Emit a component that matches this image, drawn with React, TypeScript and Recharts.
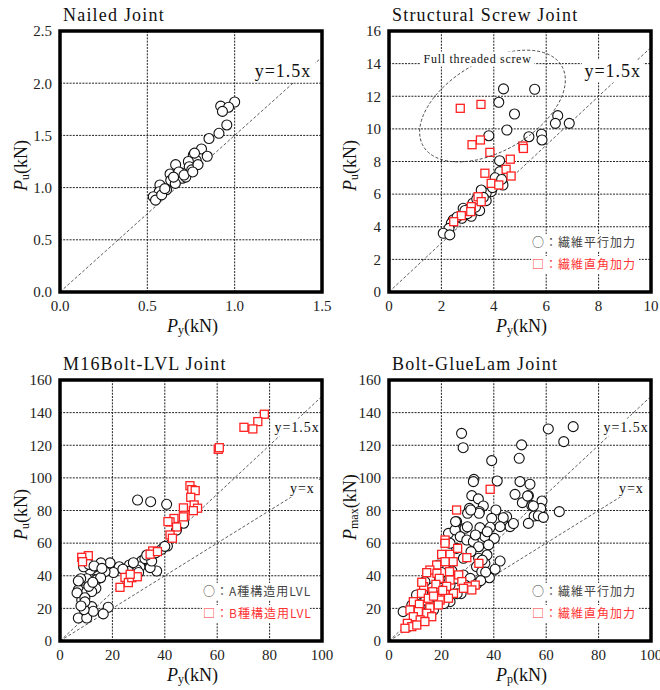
import React from "react";
import {
  ScatterChart,
  Scatter,
  XAxis,
  YAxis,
  CartesianGrid,
  ReferenceLine,
  ReferenceDot,
} from "recharts";

const SERIF = "'Liberation Serif', 'Times New Roman', serif";
const JP = "'Noto Sans CJK JP', 'Noto Sans', sans-serif";

// Nailed joint (Py, Pu in kN)
const nailedPy = [1.0, 0.92, 0.965, 0.93, 0.955, 0.91, 0.853, 0.81, 0.763, 0.843, 0.78, 0.735, 0.662, 0.74, 0.754, 0.697, 0.63, 0.7, 0.634, 0.66, 0.572, 0.61, 0.568, 0.534, 0.547, 0.582, 0.77, 0.72, 0.79, 0.68, 0.6, 0.65, 0.71, 0.76];
const nailedPu = [1.82, 1.78, 1.77, 1.73, 1.6, 1.52, 1.47, 1.37, 1.31, 1.3, 1.26, 1.25, 1.22, 1.2, 1.17, 1.14, 1.13, 1.09, 1.07, 1.04, 1.025, 0.98, 0.96, 0.913, 0.88, 0.93, 1.33, 1.1, 1.22, 1.15, 0.99, 1.1, 1.12, 1.15];

// Structural screw joint
const screwParPy = [4.37, 5.56, 4.19, 4.79, 6.44, 6.35, 6.88, 4.5, 3.81, 5.34, 5.82, 5.84, 4.22, 4.23, 4.17, 4.35, 3.9, 3.71, 3.52, 3.71, 3.6, 3.2, 2.83, 3.14, 3.46, 3.14, 2.78, 2.45, 2.38, 2.29, 2.07, 2.32, 4.05, 3.95, 3.3, 3.0, 2.9, 2.6, 3.35, 4.3];
const screwParPu = [12.45, 12.43, 11.63, 10.91, 10.81, 10.34, 10.34, 9.93, 9.58, 9.52, 9.67, 9.32, 8.05, 7.38, 6.87, 6.56, 6.15, 6.05, 6.25, 5.6, 5.8, 5.44, 5.13, 4.85, 4.99, 4.64, 4.52, 4.42, 4.22, 3.9, 3.6, 3.5, 7.0, 6.4, 5.2, 4.8, 5.0, 4.6, 5.7, 6.9];
const screwPerpPy = [2.72, 3.51, 3.17, 3.49, 3.85, 5.11, 5.13, 4.63, 3.66, 4.47, 4.66, 3.9, 4.19, 3.4, 3.52, 3.14, 3.12, 2.76, 2.47];
const screwPerpPu = [11.26, 11.5, 9.03, 9.32, 8.56, 8.95, 8.8, 8.14, 7.28, 7.52, 7.11, 6.66, 6.56, 5.84, 5.54, 5.23, 4.93, 4.68, 4.31];

// M16 bolt - LVL joint
const lvlAPy = [29.6, 34.6, 40.7, 47.2, 41, 38.8, 36.9, 34.4, 31.2, 30.5, 32.4, 29.3, 26.5, 26.1, 22.6, 20.4, 19.1, 15.6, 17.2, 14, 12.7, 11.5, 10.2, 7.9, 14, 13.7, 8.9, 7, 10.2, 12.1, 8.3, 12.1, 18.4, 16.5, 7, 10.2, 12.7, 9.2, 7, 15.5, 35, 33.1, 40, 9, 11, 13, 16, 24, 28, 30, 6.5, 9.5, 11, 12.5, 9.5, 8, 44.5, 36.5];
const lvlAPu = [86.4, 85.4, 83.8, 72.2, 58.2, 56.2, 42.9, 45, 49.1, 45.5, 50.5, 43.7, 46.6, 42.7, 45.5, 42, 47.9, 47.9, 42.5, 43.5, 45, 43.5, 38.2, 38.2, 37.6, 32.3, 31.3, 31.3, 30.3, 30.3, 25.2, 21.1, 20.7, 16.6, 14.1, 14.1, 18.2, 19.2, 36.8, 38.8, 49, 52.7, 58, 45.5, 47, 46, 44.5, 44, 48, 42, 29.5, 26.5, 33.5, 36, 24, 21.5, 68, 54];
const lvlBPy = [10.8, 8.3, 8.6, 22.9, 24.8, 26.1, 27.4, 29.5, 26.8, 35.4, 34.4, 37.2, 78, 75.5, 73.6, 70.2, 60.4, 60.8, 49.6, 50.3, 51.6, 49.9, 51.2, 52.5, 50.9, 47.1, 47.7, 43.5, 42, 44.5, 47.1, 42, 42.9, 41.2];
const lvlBPu = [52.3, 51.3, 48.6, 32.9, 39, 35.8, 38.8, 39.4, 40.9, 55.2, 53.2, 54.8, 139, 134.5, 130, 131, 117.5, 118.5, 95.2, 92.8, 92.2, 88.1, 83.4, 81.4, 79.9, 81.6, 77.1, 75.1, 73, 69.9, 76.1, 65, 63, 73.2];

// Bolt - glulam joint
const glParPp = [27.7, 28.3, 39.2, 60.8, 70.3, 66.7, 50.6, 49.7, 32.4, 32.2, 41.3, 50, 53.8, 31.6, 34.1, 36, 30.7, 30, 34.5, 40.8, 39.2, 48.1, 50.9, 53.2, 54.5, 58.4, 57.9, 55.4, 57, 58.9, 53.2, 65, 44.9, 43.6, 46.2, 42.4, 38.6, 34.7, 25.8, 22.7, 29, 25.2, 27.2, 29.7, 32.2, 36.6, 40.2, 38, 34.2, 31.3, 34.2, 37.4, 36.6, 42.4, 33.4, 38.3, 35.4, 28.4, 25.8, 23.3, 21.9, 18.8, 19.5, 15.6, 13.7, 10.5, 5.4, 8.7, 23.3, 25.8, 28.4, 31, 29, 23.3, 19.5, 15.6, 33.5, 27.5, 36.9, 35.6, 29.9, 34.4, 31.2, 25.4, 12, 9.5, 7.5, 17, 21, 26, 30.5, 35, 40.5, 33, 37.5, 52.9, 55.1, 47.5, 24, 20, 16.5, 14, 11.5];
const glParPmax = [127.3, 118.5, 110.6, 130, 131.4, 122.2, 120.2, 112, 99.1, 97.7, 98.1, 97.7, 96.1, 89.1, 87.1, 82.8, 81.3, 78.3, 79.3, 80.3, 75.2, 89.9, 84.8, 89.1, 83, 85.8, 81.3, 76.6, 76.8, 75.8, 72.1, 79.3, 76.2, 75.6, 70.1, 70.1, 69.7, 69.5, 73.2, 66, 69.1, 68.1, 64, 61.9, 60.9, 64, 62.9, 58.9, 57.8, 54.8, 50.7, 52.7, 47.6, 49, 45.6, 38.8, 42.5, 50.7, 56.8, 59.9, 50.7, 46.6, 38.4, 38.4, 36.4, 28.2, 18, 22, 34.3, 38.4, 40.5, 38.4, 34.3, 24.1, 26.2, 22.1, 35, 29, 42.2, 49.6, 70, 78.3, 80.3, 73.2, 15, 11, 9, 19, 23, 29, 33, 37, 44, 65, 67, 88.9, 82.8, 72, 43, 42, 30, 25, 20];
const glPerpPp = [38.6, 25.8, 21.4, 21.4, 20.1, 23.3, 26.2, 29.7, 34.3, 24.5, 21.4, 18.2, 15.6, 14.4, 18.3, 26.6, 23.1, 19.2, 23.3, 27.8, 30.3, 32.9, 17.9, 13.2, 16.7, 12.4, 21.4, 24.6, 28.4, 31.6, 15, 19.5, 22.7, 9.3, 11.6, 15.6, 18.8, 8, 11.2, 14.4, 16.3, 9.3, 11.9, 7, 8.7, 6.1, 10.6, 13.7, 22, 12.5, 17, 20.5];
const glPerpPmax = [93, 80.3, 61.9, 59.9, 53.1, 53.1, 56.8, 51.1, 47.6, 48.6, 48.6, 46.6, 43.5, 41.9, 41.5, 40.5, 42.5, 38.4, 37.4, 36.4, 33.3, 34.3, 34.7, 33.3, 30.2, 29.2, 29.8, 29.2, 32.3, 31.3, 26.2, 25.1, 26.2, 24.1, 22.5, 20.4, 22.1, 19, 18, 17, 14.9, 14.9, 12.9, 10.8, 8.8, 7.8, 9.8, 11.9, 33.5, 36, 27.5, 31];

const ticksNailX = [0, 0.5, 1, 1.5];
const ticksNailY = [0, 0.5, 1, 1.5, 2, 2.5];
const ticksScrewX = [0, 2, 4, 6, 8, 10];
const ticksScrewY = [0, 2, 4, 6, 8, 10, 12, 14, 16];
const ticksBoltX = [0, 20, 40, 60, 80, 100];
const ticksBoltY = [0, 20, 40, 60, 80, 100, 120, 140, 160];

const legendGrain = ["○：繊維平行加力", "□：繊維直角加力"];
const legendLvl = ["○：A種構造用LVL", "□：B種構造用LVL"];

const pts = (xs: number[], ys: number[]) => xs.map((x, i) => ({ x, y: ys[i] }));

const Circle = (p: any) => (
  <circle cx={p.cx} cy={p.cy} r={5} fill="#fff" stroke="#111" strokeWidth={1.1} />
);
const Square = (p: any) => (
  <rect x={p.cx - 4} y={p.cy - 4} width={8} height={8} fill="#fff" stroke="#f22" strokeWidth={1.3} />
);

function note(key: string, x: number, y: number, text: string, size: number, w: number) {
  return (
    <ReferenceDot
      key={key}
      x={x}
      y={y}
      r={0}
      ifOverflow="visible"
      shape={(p: any) => (
        <g>
          <rect x={p.cx - w / 2} y={p.cy - size * 0.95} width={w} height={size * 1.25} fill="#fff" />
          <text
            x={p.cx}
            y={p.cy}
            textAnchor="middle"
            fontFamily={SERIF}
            fontSize={size}
            letterSpacing={size > 13 ? 1 : 0.7}
            fill="#111"
          >
            {text}
          </text>
        </g>
      )}
    />
  );
}

function ellipseNote(key: string, x: number, y: number) {
  return (
    <ReferenceDot
      key={key}
      x={x}
      y={y}
      r={0}
      ifOverflow="visible"
      shape={(p: any) => (
        <ellipse
          cx={p.cx}
          cy={p.cy}
          rx={80}
          ry={45}
          transform={`rotate(-30 ${p.cx} ${p.cy})`}
          fill="none"
          stroke="#333"
          strokeWidth={0.8}
          strokeDasharray="3 2"
        />
      )}
    />
  );
}

const fmt1 = (v: number) => v.toFixed(1);
const tickStyle = { fontFamily: SERIF, fontSize: 15, fill: "#222" };

// plot box inside each 345x340 panel (from the chart margins below)
const PLOT = { left: 60, top: 31, width: 262, height: 261 };

function Panel(props: any) {
  const { left, top, title, xMax, yMax, xTicks, yTicks, fmt, circles, squares, guides, notes, xSub, ySub, legend } = props;
  return (
    <>
      <div style={{ position: "absolute", left, top }}>
        <ScatterChart width={345} height={340} margin={{ top: PLOT.top, right: 23, bottom: 18, left: 0 }}>
          <CartesianGrid stroke="#222" strokeDasharray="2 1.2" />
          <XAxis
            type="number"
            dataKey="x"
            domain={[0, xMax]}
            ticks={xTicks}
            interval={0}
            tickFormatter={fmt}
            axisLine={false}
            tickLine={false}
            tick={tickStyle}
            height={30}
          />
          <YAxis
            type="number"
            dataKey="y"
            domain={[0, yMax]}
            ticks={yTicks}
            interval={0}
            tickFormatter={fmt}
            axisLine={false}
            tickLine={false}
            tick={tickStyle}
            width={PLOT.left}
          />
          {guides.map((g: number[], i: number) => (
            <ReferenceLine
              key={"g" + i}
              segment={[{ x: 0, y: 0 }, { x: g[0], y: g[1] }]}
              stroke="#333"
              strokeWidth={0.8}
              strokeDasharray="3 2"
            />
          ))}
          <Scatter data={circles} shape={Circle} isAnimationActive={false} />
          {squares && <Scatter data={squares} shape={Square} isAnimationActive={false} />}
          {notes}
        </ScatterChart>
      </div>
      <svg width={330} height={340} style={{ position: "absolute", left, top, pointerEvents: "none", overflow: "visible" }}>
        <rect x={PLOT.left} y={PLOT.top} width={PLOT.width} height={PLOT.height} fill="none" stroke="#000" strokeWidth={3.5} />
        <text x={63} y={21} fontFamily={SERIF} fontSize={18} letterSpacing={1.2} fill="#111">
          {title}
        </text>
        <text x={167} y={332} fontFamily={SERIF} fontSize={18} fill="#111">
          <tspan fontStyle="italic">P</tspan>
          <tspan fontSize={12} dy={2}>{xSub}</tspan>
          <tspan dy={-2}>(kN)</tspan>
        </text>
        <text transform="translate(27,191) rotate(-90)" fontFamily={SERIF} fontSize={18} fill="#111">
          <tspan fontStyle="italic">P</tspan>
          <tspan fontSize={12} dy={2}>{ySub}</tspan>
          <tspan dy={-2}>(kN)</tspan>
        </text>
        {legend &&
          legend.map((t: string, i: number) => (
            <g key={t}>
              <rect x={202} y={234 + i * 22} width={108} height={17} fill="#fff" />
              <text
                x={203}
                y={247 + i * 22}
                fontFamily={JP}
                fontSize={12}
                letterSpacing={1}
                fill={i === 0 ? "#444" : "#ff3333"}
              >
                {t}
              </text>
            </g>
          ))}
      </svg>
    </>
  );
}

export default function App() {
  return (
    <div style={{ position: "absolute", left: 0, top: 0, width: 660, height: 690, background: "#fff", overflow: "hidden" }}>
      <Panel
        left={0}
        top={0}
        title="Nailed Joint"
        xMax={1.5}
        yMax={2.5}
        xTicks={ticksNailX}
        yTicks={ticksNailY}
        fmt={fmt1}
        circles={pts(nailedPy, nailedPu)}
        guides={[[1.5, 2.25]]}
        notes={[note("n1", 1.277, 2.06, "y=1.5x", 18, 64)]}
        xSub="y"
        ySub="u"
      />
      <Panel
        left={329}
        top={0}
        title="Structural Screw Joint"
        xMax={10}
        yMax={16}
        xTicks={ticksScrewX}
        yTicks={ticksScrewY}
        circles={pts(screwParPy, screwParPu)}
        squares={pts(screwPerpPy, screwPerpPu)}
        guides={[[10, 15]]}
        notes={[
          ellipseNote("e", 3.95, 11.4),
          note("s1", 3.38, 14.04, "Full threaded screw", 12, 114),
          note("s2", 8.54, 13.18, "y=1.5x", 18, 62),
        ]}
        xSub="y"
        ySub="u"
        legend={legendGrain}
      />
      <Panel
        left={0}
        top={349}
        title="M16Bolt-LVL Joint"
        xMax={100}
        yMax={160}
        xTicks={ticksBoltX}
        yTicks={ticksBoltY}
        circles={pts(lvlAPy, lvlAPu)}
        squares={pts(lvlBPy, lvlBPu)}
        guides={[[100, 150], [100, 100]]}
        notes={[note("l1", 90.5, 128.1, "y=1.5x", 14, 48), note("l2", 92.5, 90.7, "y=x", 14, 34)]}
        xSub="y"
        ySub="u"
        legend={legendLvl}
      />
      <Panel
        left={329}
        top={349}
        title="Bolt-GlueLam Joint"
        xMax={100}
        yMax={160}
        xTicks={ticksBoltX}
        yTicks={ticksBoltY}
        circles={pts(glParPp, glParPmax)}
        squares={pts(glPerpPp, glPerpPmax)}
        guides={[[100, 150], [100, 100]]}
        notes={[note("g1", 90.5, 128.1, "y=1.5x", 14, 48), note("g2", 92.5, 90.7, "y=x", 14, 34)]}
        xSub="p"
        ySub="max"
        legend={legendGrain}
      />
    </div>
  );
}
